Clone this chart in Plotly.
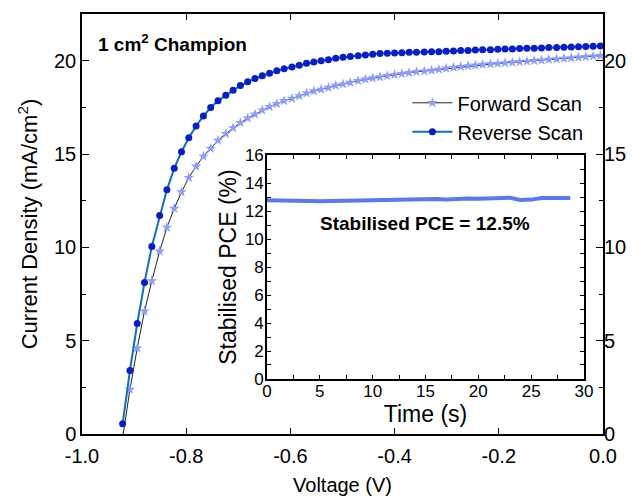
import plotly.graph_objects as go

# ---------------- data ----------------
voltage = [-0.922, -0.908, -0.894, -0.880, -0.866, -0.851, -0.837, -0.823, -0.809, -0.795,
           -0.781, -0.767, -0.753, -0.739, -0.724, -0.710, -0.696, -0.682, -0.668, -0.654,
           -0.640, -0.626, -0.612, -0.597, -0.583, -0.569, -0.555, -0.541, -0.527, -0.513,
           -0.499, -0.485, -0.470, -0.456, -0.442, -0.428, -0.414, -0.400, -0.386, -0.372,
           -0.358, -0.343, -0.329, -0.315, -0.301, -0.287, -0.273, -0.259, -0.245, -0.231,
           -0.216, -0.202, -0.188, -0.174, -0.160, -0.146, -0.132, -0.118, -0.104, -0.089,
           -0.075, -0.061, -0.047, -0.033, -0.019, -0.005]

reverse_j = [0.55, 3.40, 5.92, 8.12, 10.05, 11.70, 13.08, 14.23, 15.12, 15.87,
             16.50, 17.03, 17.49, 17.85, 18.15, 18.42, 18.67, 18.87, 19.05, 19.19,
             19.32, 19.46, 19.57, 19.66, 19.75, 19.86, 19.93, 20.00, 20.05, 20.13,
             20.18, 20.22, 20.27, 20.31, 20.34, 20.38, 20.40, 20.41, 20.43, 20.45,
             20.45, 20.47, 20.48, 20.48, 20.50, 20.52, 20.54, 20.55, 20.57, 20.58,
             20.59, 20.61, 20.62, 20.63, 20.65, 20.66, 20.67, 20.68, 20.70, 20.71,
             20.72, 20.73, 20.75, 20.76, 20.77, 20.79]

forward_j = [-0.20, 2.38, 4.60, 6.58, 8.20, 9.79, 11.07, 12.08, 12.96, 13.73,
             14.34, 14.87, 15.30, 15.73, 16.09, 16.40, 16.67, 16.92, 17.13, 17.35,
             17.53, 17.69, 17.85, 17.97, 18.11, 18.26, 18.37, 18.46, 18.56, 18.67,
             18.74, 18.83, 18.92, 19.00, 19.07, 19.12, 19.19, 19.25, 19.30, 19.35,
             19.41, 19.44, 19.48, 19.53, 19.59, 19.64, 19.68, 19.72, 19.75, 19.79,
             19.82, 19.85, 19.88, 19.91, 19.94, 19.97, 20.00, 20.03, 20.06, 20.09,
             20.12, 20.15, 20.18, 20.21, 20.24, 20.27]

time_s = [0, 1, 2, 3, 4, 5, 6, 7, 8, 9, 10, 11, 12, 13, 14, 15, 16, 17, 18, 19,
          20, 21, 22, 23, 24, 25, 26, 27, 28, 28.7]
pce = [12.78, 12.78, 12.77, 12.77, 12.72, 12.70, 12.72, 12.75, 12.77, 12.78,
       12.79, 12.80, 12.81, 12.83, 12.84, 12.86, 12.87, 12.83, 12.90, 12.90,
       12.89, 12.89, 12.90, 12.95, 12.79, 12.82, 12.93, 12.95, 12.95, 12.93]

main_x_ticks = [-1.0, -0.8, -0.6, -0.4, -0.2, 0.0]
main_x_labels = ["-1.0", "-0.8", "-0.6", "-0.4", "-0.2", "0.0"]
main_y_ticks = [0, 5, 10, 15, 20]
inset_x_ticks = [0, 5, 10, 15, 20, 25, 30]
inset_y_ticks = [0, 2, 4, 6, 8, 10, 12, 14, 16]

FONT = "Liberation Sans, Arial, sans-serif"

fig = go.Figure()

fig.add_trace(go.Scatter(
    x=voltage, y=forward_j, mode="lines+markers", name="Forward Scan",
    line=dict(color="#222222", width=1),
    marker=dict(symbol="star", size=8, color="#8c9cff", line=dict(width=0)),
    xaxis="x", yaxis="y", cliponaxis=True))

fig.add_trace(go.Scatter(
    x=voltage, y=reverse_j, mode="lines+markers", name="Reverse Scan",
    line=dict(color="#1270b8", width=2),
    marker=dict(symbol="circle", size=7, color="#0a1ec8", line=dict(width=0)),
    xaxis="x", yaxis="y", cliponaxis=True))

# invisible trace to drive the right-hand axis labels
fig.add_trace(go.Scatter(
    x=voltage[:1], y=reverse_j[:1], mode="markers", showlegend=False,
    marker=dict(opacity=0), hoverinfo="skip", xaxis="x", yaxis="y2"))

fig.add_trace(go.Scatter(
    x=time_s, y=pce, mode="lines", showlegend=False,
    line=dict(color="#5a78f0", width=4),
    xaxis="x2", yaxis="y3"))

axis_common = dict(showline=True, linecolor="black", linewidth=1.5,
                   showgrid=False, zeroline=False, ticks="inside",
                   tickcolor="black", tickwidth=1.2, automargin=False)

fig.update_layout(
    width=638, height=499,
    margin=dict(l=82, r=35, t=14, b=65, autoexpand=False),
    paper_bgcolor="white", plot_bgcolor="white",
    font=dict(family=FONT, color="black", size=20),
    xaxis=dict(**axis_common, range=[-1.0, 0.0], tickvals=main_x_ticks,
               ticktext=main_x_labels, ticklen=6, mirror="ticks",
               tickfont=dict(size=20), ticklabelstandoff=3,
               title=dict(text="Voltage (V)", font=dict(size=20), standoff=12),
               domain=[0, 1], anchor="y"),
    yaxis=dict(**axis_common, range=[0, 22.5], tickvals=main_y_ticks,
               ticklen=7, mirror="ticks",
               minor=dict(tickvals=[2.5, 7.5, 12.5, 17.5, 22.5], ticklen=4,
                          ticks="inside", tickcolor="black"),
               tickfont=dict(size=20),
               title=dict(text="Current Density (mA/cm<sup>2</sup>)",
                          font=dict(size=22), standoff=10),
               domain=[0, 1], anchor="x"),
    yaxis2=dict(range=[0, 22.5], tickvals=main_y_ticks, overlaying="y",
                side="right", showgrid=False, zeroline=False, showline=False,
                ticks="", tickfont=dict(size=20), anchor="x", automargin=False),
    xaxis2=dict(**axis_common, range=[0, 30], tickvals=inset_x_ticks,
                ticklen=4, mirror="ticks",
                minor=dict(tickvals=[2.5, 7.5, 12.5, 17.5, 22.5, 27.5], ticklen=4,
                           ticks="inside", tickcolor="black"),
                tickfont=dict(size=17), ticklabelstandoff=-4,
                title=dict(text="Time (s)", font=dict(size=23), standoff=0),
                domain=[0.355, 0.9635], anchor="y3"),
    yaxis3=dict(**axis_common, range=[0, 16], tickvals=inset_y_ticks,
                ticklen=4, mirror="ticks",
                minor=dict(tickvals=[1, 3, 5, 7, 9, 11, 13, 15], ticklen=4,
                           ticks="inside", tickcolor="black"),
                tickfont=dict(size=17), ticklabelstandoff=-2,
                title=dict(text="Stabilised PCE (%)", font=dict(size=23), standoff=2),
                domain=[0.131, 0.664], anchor="x2"),
    legend=dict(x=0.972, y=0.835, xanchor="right", yanchor="top",
                bgcolor="rgba(0,0,0,0)", font=dict(size=20),
                itemwidth=40, tracegroupgap=0),
    showlegend=True,
    annotations=[
        dict(text="<b>1 cm<sup>2</sup> Champion</b>", xref="paper", yref="paper",
             x=0.026, y=0.93, xanchor="left", yanchor="middle",
             showarrow=False, font=dict(size=19)),
        dict(text="<b>Stabilised PCE = 12.5%</b>", xref="x2", yref="y3",
             x=15, y=11.1, xanchor="center", yanchor="middle",
             showarrow=False, font=dict(size=19)),
    ],
)

fig.write_html("out.html", config={"displayModeBar": False},
               post_script="document.body.style.margin='0';document.body.style.padding='0';")
